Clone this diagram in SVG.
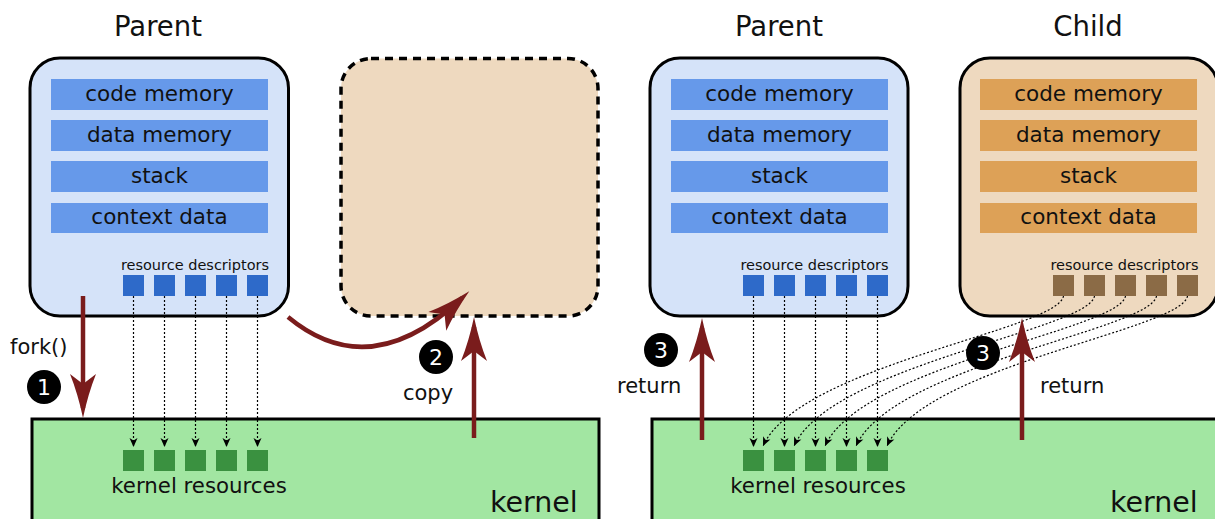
<svg xmlns="http://www.w3.org/2000/svg" width="1215" height="519" viewBox="0 0 1215 519">
<defs>
<style>
text{font-family:"DejaVu Sans","Liberation Sans",sans-serif;fill:#111}
.title{font-size:27.5px;text-anchor:middle}
.bar{font-size:21.5px;text-anchor:middle}
.small{font-size:14.5px;text-anchor:middle}
.lbl{font-size:21px}
.kr{font-size:21.3px;text-anchor:middle}
.kern{font-size:28.5px}
.num{font-size:22px;fill:#fff;text-anchor:middle}
.proc{fill:#d5e3f9;stroke:#000;stroke-width:3}
.child{fill:#eed9bf;stroke:#000;stroke-width:3}
.copybox{fill:#eed9bf;stroke:#000;stroke-width:3.5;stroke-dasharray:8,6}
.kbox{fill:#a2e6a2;stroke:#000;stroke-width:3}
.bbar{fill:#6699ea}
.obar{fill:#dda157}
.bsq{fill:#2e6ac9}
.osq{fill:#8b6b46}
.gsq{fill:#3a9140}
.red{fill:none;stroke:#7a1c1c;stroke-width:4.5;marker-end:url(#ah)}
.dot{fill:none;stroke:#000;stroke-width:1.2;stroke-dasharray:2,2;marker-end:url(#sa)}
</style>
<marker id="ah" markerUnits="userSpaceOnUse" markerWidth="50" markerHeight="30" refX="34" refY="13" orient="auto" overflow="visible">
<path d="M0,0 Q20,8 44,13 Q20,18 0,26 L10,13 Z" fill="#7a1c1c"/>
</marker>
<marker id="sa" markerUnits="userSpaceOnUse" markerWidth="12" markerHeight="10" refX="9" refY="4" orient="auto" overflow="visible">
<path d="M0,0 L9,4 L0,8 L2.5,4 Z" fill="#000"/>
</marker>
</defs>

<g id="titles">
<text class="title" x="158" y="36">Parent</text>
<text class="title" x="779" y="36">Parent</text>
<text class="title" x="1088" y="36">Child</text>
</g>

<g id="kernel-left">
<rect class="kbox" x="32" y="419" width="567" height="110"/>
<rect class="gsq" x="123" y="450" width="21" height="21"/>
<rect class="gsq" x="154" y="450" width="21" height="21"/>
<rect class="gsq" x="185" y="450" width="21" height="21"/>
<rect class="gsq" x="216" y="450" width="21" height="21"/>
<rect class="gsq" x="247" y="450" width="21" height="21"/>
<text class="kr" x="199" y="493">kernel resources</text>
<text class="kern" x="490" y="512">kernel</text>
</g>

<g id="kernel-right">
<rect class="kbox" x="652" y="419" width="580" height="110"/>
<rect class="gsq" x="743" y="450" width="21" height="21"/>
<rect class="gsq" x="774" y="450" width="21" height="21"/>
<rect class="gsq" x="805" y="450" width="21" height="21"/>
<rect class="gsq" x="836" y="450" width="21" height="21"/>
<rect class="gsq" x="867" y="450" width="21" height="21"/>
<text class="kr" x="818" y="493">kernel resources</text>
<text class="kern" x="1110" y="512">kernel</text>
</g>

<g id="parent-left">
<rect class="proc" x="30" y="58" width="258.5" height="258" rx="30" ry="30"/>
<rect class="bbar" x="51" y="79" width="217" height="31"/>
<rect class="bbar" x="51" y="120" width="217" height="31"/>
<rect class="bbar" x="51" y="161" width="217" height="31"/>
<rect class="bbar" x="51" y="203" width="217" height="30"/>
<text class="bar" x="159.5" y="100.5">code memory</text>
<text class="bar" x="159.5" y="141.5">data memory</text>
<text class="bar" x="159.5" y="183">stack</text>
<text class="bar" x="159.5" y="224">context data</text>
<text class="small" x="195" y="270">resource descriptors</text>
<rect class="bsq" x="123" y="275" width="21" height="21"/>
<rect class="bsq" x="154" y="275" width="21" height="21"/>
<rect class="bsq" x="185" y="275" width="21" height="21"/>
<rect class="bsq" x="216" y="275" width="21" height="21"/>
<rect class="bsq" x="247" y="275" width="21" height="21"/>
</g>

<g id="copy-box">
<rect class="copybox" x="341" y="58.5" width="257" height="257.5" rx="30" ry="30"/>
</g>

<g id="parent-right">
<rect class="proc" x="650" y="58" width="258" height="258" rx="30" ry="30"/>
<rect class="bbar" x="671" y="79" width="217" height="31"/>
<rect class="bbar" x="671" y="120" width="217" height="31"/>
<rect class="bbar" x="671" y="161" width="217" height="31"/>
<rect class="bbar" x="671" y="203" width="217" height="30"/>
<text class="bar" x="779.5" y="100.5">code memory</text>
<text class="bar" x="779.5" y="141.5">data memory</text>
<text class="bar" x="779.5" y="183">stack</text>
<text class="bar" x="779.5" y="224">context data</text>
<text class="small" x="814.5" y="270">resource descriptors</text>
<rect class="bsq" x="743" y="275" width="21" height="21"/>
<rect class="bsq" x="774" y="275" width="21" height="21"/>
<rect class="bsq" x="805" y="275" width="21" height="21"/>
<rect class="bsq" x="836" y="275" width="21" height="21"/>
<rect class="bsq" x="867" y="275" width="21" height="21"/>
</g>

<g id="child">
<rect class="child" x="960" y="58" width="258" height="258" rx="30" ry="30"/>
<rect class="obar" x="980" y="79" width="217" height="31"/>
<rect class="obar" x="980" y="120" width="217" height="31"/>
<rect class="obar" x="980" y="161" width="217" height="31"/>
<rect class="obar" x="980" y="203" width="217" height="30"/>
<text class="bar" x="1088.5" y="100.5">code memory</text>
<text class="bar" x="1088.5" y="141.5">data memory</text>
<text class="bar" x="1088.5" y="183">stack</text>
<text class="bar" x="1088.5" y="224">context data</text>
<text class="small" x="1124.5" y="270">resource descriptors</text>
<rect class="osq" x="1053" y="275" width="21" height="21"/>
<rect class="osq" x="1084" y="275" width="21" height="21"/>
<rect class="osq" x="1115" y="275" width="21" height="21"/>
<rect class="osq" x="1146" y="275" width="21" height="21"/>
<rect class="osq" x="1177" y="275" width="21" height="21"/>
</g>

<g id="connectors">
<line class="dot" x1="133.5" y1="296" x2="133.5" y2="447"/>
<line class="dot" x1="164.5" y1="296" x2="164.5" y2="447"/>
<line class="dot" x1="195.5" y1="296" x2="195.5" y2="447"/>
<line class="dot" x1="226.5" y1="296" x2="226.5" y2="447"/>
<line class="dot" x1="257.5" y1="296" x2="257.5" y2="447"/>
<line class="dot" x1="753.5" y1="296" x2="753.5" y2="447"/>
<line class="dot" x1="784.5" y1="296" x2="784.5" y2="447"/>
<line class="dot" x1="815.5" y1="296" x2="815.5" y2="447"/>
<line class="dot" x1="846.5" y1="296" x2="846.5" y2="447"/>
<line class="dot" x1="877.5" y1="296" x2="877.5" y2="447"/>
<path class="dot" d="M1063.5,296 C1058,330 800,365 763,446"/>
<path class="dot" d="M1094.5,296 C1089,330 831,365 794,446"/>
<path class="dot" d="M1125.5,296 C1120,330 862,365 825,446"/>
<path class="dot" d="M1156.5,296 C1151,330 893,365 856,446"/>
<path class="dot" d="M1187.5,296 C1182,330 924,365 887,446"/>
<line class="red" x1="83" y1="296" x2="83" y2="408"/>
<path class="red" d="M288,317 Q370,385 462,298"/>
<line class="red" x1="474" y1="438" x2="474" y2="327"/>
<line class="red" x1="702" y1="440" x2="702" y2="328"/>
<line class="red" x1="1022" y1="440" x2="1022" y2="328"/>
</g>

<g id="labels">
<text class="lbl" x="10" y="354">fork()</text>
<circle cx="44" cy="387" r="17" fill="#000"/>
<text class="num" x="44" y="395">1</text>
<circle cx="436" cy="357" r="17" fill="#000"/>
<text class="num" x="436" y="365">2</text>
<text class="lbl" x="428" y="400" text-anchor="middle">copy</text>
<circle cx="661" cy="350" r="17" fill="#000"/>
<text class="num" x="661" y="358">3</text>
<text class="lbl" x="617" y="393">return</text>
<circle cx="983" cy="353" r="17" fill="#000"/>
<text class="num" x="983" y="361">3</text>
<text class="lbl" x="1040" y="393">return</text>
</g>
</svg>
